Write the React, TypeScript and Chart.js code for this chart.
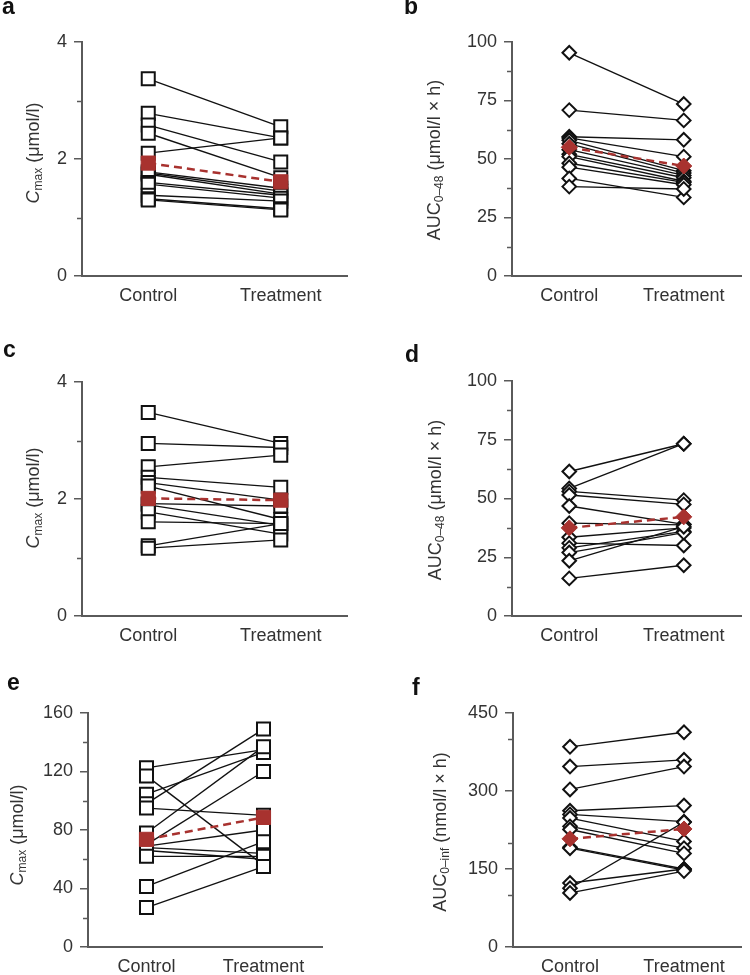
import React, { useEffect, useRef } from 'react';
import { Chart, registerables } from 'chart.js';

Chart.register(...registerables);

// ---------- data ----------
const groups = ['Control', 'Treatment'];

const aControl = [3.37, 2.78, 2.58, 2.44, 2.10, 1.78, 1.76, 1.74, 1.60, 1.57, 1.38, 1.32, 1.30];
const aTreatment = [2.55, 2.36, 1.95, 1.68, 2.36, 1.50, 1.45, 1.40, 1.38, 1.33, 1.28, 1.15, 1.13];
const aMean = [1.93, 1.61];

const bControl = [95.4, 70.9, 59.5, 59.0, 58.0, 56.5, 54.0, 52.0, 51.0, 48.2, 46.5, 41.7, 38.2];
const bTreatment = [73.5, 66.5, 58.2, 51.0, 45.0, 44.0, 43.0, 42.0, 40.5, 40.0, 39.0, 33.6, 37.2];
const bMean = [55, 47];

const cControl = [3.48, 2.95, 2.55, 2.37, 2.28, 2.22, 1.92, 1.90, 1.78, 1.61, 1.20, 1.16];
const cTreatment = [2.95, 2.88, 2.75, 2.20, 1.98, 1.65, 1.88, 1.55, 1.40, 1.58, 1.58, 1.30];
const cMean = [2.01, 1.98];

const dControl = [61.5, 54.3, 53.0, 51.5, 46.8, 39.5, 33.5, 31.0, 29.0, 27.0, 23.5, 16.0];
const dTreatment = [73.3, 73.3, 49.3, 47.5, 39.0, 38.8, 37.5, 30.0, 36.0, 35.5, 38.0, 21.6];
const dMean = [37.5, 42.2];

const eControl = [122.5, 117, 104.5, 98, 95, 78, 70, 69, 68, 66, 62, 41.4, 27];
const eTreatment = [135, 56, 133, 149, 90, 137, 120, 80, 64, 60, 62, 72, 55];
const eMean = [73.6, 88.6];

const fControl = [385, 347, 303, 262, 255, 248, 232, 226, 192, 190, 123, 113, 104];
const fTreatment = [413, 360, 347, 272, 241, 203, 190, 180, 150, 148, 150, 240, 146];
const fMean = [208, 227];

// axis ranges / ticks
const cmaxMax = 4, cmaxStep = 2, cmaxMinor = [1, 3];
const aucMax = 100, aucStep = 25, aucMinor = [12.5, 37.5, 62.5, 87.5];
const eMax = 160, eStep = 40, eMinor = [20, 60, 100, 140];
const fMax = 450, fStep = 150, fMinor = [100, 200, 400];

// ---------- styles ----------
const FONT = "'Liberation Sans', Arial, Helvetica, sans-serif";
const AXIS = '#5a5a5a';
const TEXT = '#333333';
const RED = '#a8322f';

type Part = { t: string; italic?: boolean; sub?: boolean };
const cmaxTitle: Part[] = [{ t: 'C', italic: true }, { t: 'max', sub: true }, { t: ' (μmol/l)' }];
const auc48Title: Part[] = [{ t: 'AUC' }, { t: '0–48', sub: true }, { t: ' (μmol/l × h)' }];
const aucInfTitle: Part[] = [{ t: 'AUC' }, { t: '0–inf', sub: true }, { t: ' (nmol/l × h)' }];

interface Spec {
  letter: string;
  control: number[];
  treatment: number[];
  mean: number[];
  yMax: number;
  yStep: number;
  minor: number[];
  marker: 'rect' | 'rectRot';
  title: Part[];
  left: number; top: number; width: number; height: number;
  area: { l: number; r: number; t: number; b: number };
  titleX: number; titleY: number;
  letterX: number; letterY: number;
}

const specs: Spec[] = [
  {
    letter: 'a', control: aControl, treatment: aTreatment, mean: aMean,
    yMax: cmaxMax, yStep: cmaxStep, minor: cmaxMinor, marker: 'rect', title: cmaxTitle,
    left: 0, top: 0, width: 375, height: 310,
    area: { l: 82, r: 347, t: 42, b: 276 }, titleX: 34, titleY: 153, letterX: 2, letterY: 14,
  },
  {
    letter: 'b', control: bControl, treatment: bTreatment, mean: bMean,
    yMax: aucMax, yStep: aucStep, minor: aucMinor, marker: 'rectRot', title: auc48Title,
    left: 375, top: 0, width: 375, height: 310,
    area: { l: 137, r: 373, t: 42, b: 276 }, titleX: 60, titleY: 160, letterX: 29, letterY: 14,
  },
  {
    letter: 'c', control: cControl, treatment: cTreatment, mean: cMean,
    yMax: cmaxMax, yStep: cmaxStep, minor: cmaxMinor, marker: 'rect', title: cmaxTitle,
    left: 0, top: 330, width: 375, height: 325,
    area: { l: 82, r: 347, t: 52, b: 286 }, titleX: 34, titleY: 168, letterX: 3, letterY: 27,
  },
  {
    letter: 'd', control: dControl, treatment: dTreatment, mean: dMean,
    yMax: aucMax, yStep: aucStep, minor: aucMinor, marker: 'rectRot', title: auc48Title,
    left: 375, top: 330, width: 375, height: 325,
    area: { l: 137, r: 373, t: 51, b: 286 }, titleX: 61, titleY: 170, letterX: 30, letterY: 32,
  },
  {
    letter: 'e', control: eControl, treatment: eTreatment, mean: eMean,
    yMax: eMax, yStep: eStep, minor: eMinor, marker: 'rect', title: cmaxTitle,
    left: 0, top: 660, width: 375, height: 315,
    area: { l: 88, r: 322, t: 53, b: 287 }, titleX: 18, titleY: 175, letterX: 7, letterY: 30,
  },
  {
    letter: 'f', control: fControl, treatment: fTreatment, mean: fMean,
    yMax: fMax, yStep: fStep, minor: fMinor, marker: 'rectRot', title: aucInfTitle,
    left: 375, top: 660, width: 375, height: 315,
    area: { l: 138, r: 373, t: 53, b: 287 }, titleX: 66, titleY: 172, letterX: 37, letterY: 35,
  },
];

function makeDecor(spec: Spec) {
  return {
    id: 'decor_' + spec.letter,
    afterDraw(chart: any) {
      const { ctx, chartArea } = chart;
      const y = chart.scales.y;
      ctx.save();
      // minor ticks
      ctx.strokeStyle = AXIS;
      ctx.lineWidth = 1.5;
      for (const v of spec.minor) {
        const py = Math.round(y.getPixelForValue(v)) + 0.5;
        ctx.beginPath();
        ctx.moveTo(chartArea.left - 5, py);
        ctx.lineTo(chartArea.left, py);
        ctx.stroke();
      }
      // y title (rotated, with subscript)
      ctx.translate(spec.titleX, spec.titleY);
      ctx.rotate(-Math.PI / 2);
      ctx.fillStyle = TEXT;
      ctx.textBaseline = 'middle';
      ctx.textAlign = 'left';
      const fontOf = (p: Part) =>
        (p.italic ? 'italic ' : '') + (p.sub ? '12px ' : '18px ') + FONT;
      const widths = spec.title.map((p) => {
        ctx.font = fontOf(p);
        return ctx.measureText(p.t).width;
      });
      const total = widths.reduce((s, w) => s + w, 0);
      let x = -total / 2;
      spec.title.forEach((p, i) => {
        ctx.font = fontOf(p);
        ctx.fillText(p.t, x, p.sub ? 5 : 0);
        x += widths[i];
      });
      ctx.restore();
      // panel letter
      ctx.save();
      ctx.font = 'bold 23px ' + FONT;
      ctx.fillStyle = '#111';
      ctx.textBaseline = 'alphabetic';
      ctx.textAlign = 'left';
      ctx.fillText(spec.letter, spec.letterX, spec.letterY);
      ctx.restore();
    },
  };
}

function buildConfig(spec: Spec): any {
  const isRect = spec.marker === 'rect';
  const subjectLines = spec.control.map((c, i) => ({
    label: 'Subject ' + (i + 1),
    data: [{ x: 0, y: c }, { x: 1, y: spec.treatment[i] }],
    borderColor: '#111',
    borderWidth: 1.35,
    pointRadius: 0,
    showLine: true,
    fill: false,
    order: 3,
  }));
  const markers = {
    label: 'Subjects',
    data: [
      ...spec.control.map((v) => ({ x: 0, y: v })),
      ...spec.treatment.map((v) => ({ x: 1, y: v })),
    ],
    showLine: false,
    pointStyle: spec.marker,
    pointRadius: isRect ? 9.2 : 6.8,
    pointBackgroundColor: '#ffffff',
    pointBorderColor: '#111',
    pointBorderWidth: 2,
    order: 2,
  };
  const mean = {
    label: 'Mean',
    data: [{ x: 0, y: spec.mean[0] }, { x: 1, y: spec.mean[1] }],
    showLine: true,
    borderColor: RED,
    borderWidth: 2.5,
    borderDash: [8, 5],
    pointStyle: spec.marker,
    pointRadius: isRect ? 10 : 8,
    pointBackgroundColor: RED,
    pointBorderColor: RED,
    pointBorderWidth: 1,
    order: 1,
  };
  const tickFont = { family: FONT, size: 18 };
  return {
    type: 'line',
    data: { datasets: [mean, markers, ...subjectLines] },
    options: {
      animation: false,
      responsive: false,
      maintainAspectRatio: false,
      devicePixelRatio: 1,
      layout: {
        padding: { top: spec.area.t, right: spec.width - spec.area.r, left: 0, bottom: 0 },
      },
      plugins: { legend: { display: false }, tooltip: { enabled: false } },
      elements: { line: { tension: 0 } },
      scales: {
        x: {
          type: 'linear',
          min: -0.5,
          max: 1.5,
          afterBuildTicks: (s: any) => {
            s.ticks = [{ value: 0 }, { value: 1 }];
          },
          afterFit: (s: any) => {
            s.height = spec.height - spec.area.b;
          },
          ticks: {
            callback: (v: number) => groups[v] ?? '',
            font: tickFont,
            color: TEXT,
            padding: 9,
            autoSkip: false,
            maxRotation: 0,
          },
          grid: { display: false, drawTicks: false },
          border: { display: true, color: AXIS, width: 2 },
        },
        y: {
          type: 'linear',
          min: 0,
          max: spec.yMax,
          afterFit: (s: any) => {
            s.width = spec.area.l;
          },
          ticks: {
            stepSize: spec.yStep,
            font: tickFont,
            color: TEXT,
            padding: 7,
          },
          grid: {
            drawOnChartArea: false,
            drawTicks: true,
            tickLength: 8,
            color: AXIS,
            lineWidth: 1.5,
          },
          border: { display: true, color: AXIS, width: 2 },
        },
      },
    },
    plugins: [makeDecor(spec)],
  };
}

function Panel({ spec }: { spec: Spec }) {
  const ref = useRef<HTMLCanvasElement>(null);
  useEffect(() => {
    const chart = new Chart(ref.current as HTMLCanvasElement, buildConfig(spec));
    return () => chart.destroy();
  }, [spec]);
  return (
    <canvas
      ref={ref}
      width={spec.width}
      height={spec.height}
      style={{
        position: 'absolute',
        left: spec.left,
        top: spec.top,
        width: spec.width,
        height: spec.height,
      }}
    />
  );
}

export default function App() {
  return (
    <div
      style={{
        position: 'absolute',
        left: 0,
        top: 0,
        width: 750,
        height: 975,
        background: '#ffffff',
        overflow: 'hidden',
      }}
    >
      {specs.map((s) => (
        <Panel key={s.letter} spec={s} />
      ))}
    </div>
  );
}
